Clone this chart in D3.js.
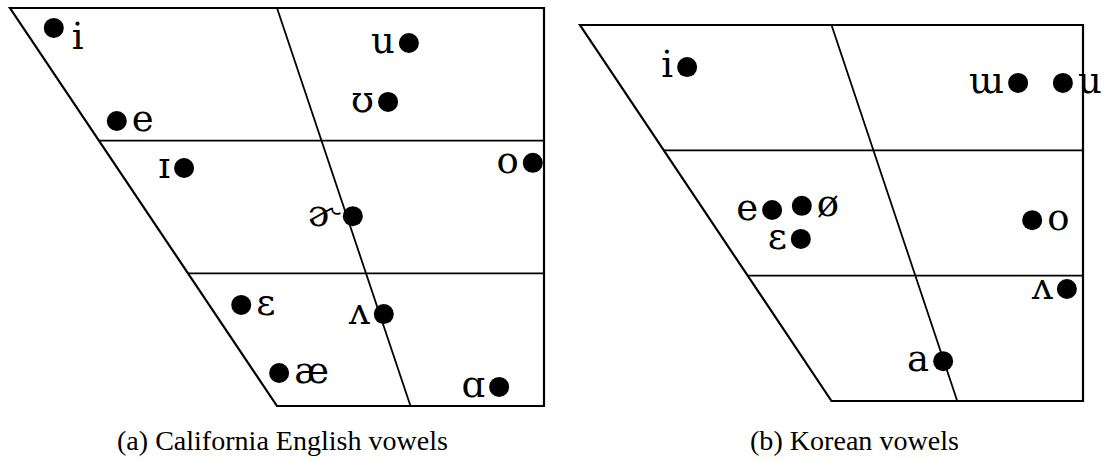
<!DOCTYPE html>
<html>
<head>
<meta charset="utf-8">
<script src="https://cdn.jsdelivr.net/npm/d3@7"></script>
<style>
  body { margin: 0; background: #fff; }
  .outline { fill: none; stroke: #000; stroke-width: 2.2; }
  .grid { fill: none; stroke: #000; stroke-width: 1.8; }
  .vowel-label { font-family: "DejaVu Serif", "Liberation Serif", serif; font-size: 37px; fill: #000; }
  .caption { font-family: "Liberation Serif", "Times New Roman", serif; font-size: 27px; fill: #000; }
</style>
</head>
<body>
<svg id="chart" width="1112" height="461"></svg>
<script>

// vowel space: x = backness 0..100 (front -> back), y = height 0..100 (close -> open)
// trapezoid corners and grid lines, in vowel-space units
var trapezoid = [[0, 0], [100, 0], [100, 100], [50, 100]];
var heightLines = [[[100 / 6, 100 / 3], [100, 100 / 3]], [[100 / 3, 200 / 3], [100, 200 / 3]]];
var centralLine = [[50, 0], [75, 100]];

// California English
var enSymbols = ["i", "e", "ɪ", "u", "ʊ", "o", "ɚ", "ʌ", "ɛ", "æ", "ɑ"];
var enBack    = [8.2, 20.0, 32.6, 74.7, 70.8, 97.9, 64.2, 70.0, 43.3, 50.4, 91.6];
var enHeight  = [5.0, 28.4, 40.2, 8.8, 23.6, 38.9, 52.3, 76.9, 74.6, 91.7, 95.2];
var enSide    = ["below", "right", "left", "left", "left", "left", "left", "left", "right", "right", "left"];

// Korean
var koSymbols = ["i", "ɯ", "u", "e", "ø", "ɛ", "o", "ʌ", "a"];
var koBack    = [21.3, 87.1, 96.0, 38.2, 44.1, 43.9, 89.9, 96.8, 72.2];
var koHeight  = [11.2, 15.4, 15.4, 49.2, 48.1, 56.9, 51.9, 70.2, 89.4];
var koSide    = ["left", "left", "right", "left", "right", "left", "right", "left", "left"];

var captions = ["(a) California English vowels", "(b) Korean vowels"];

var svg = d3.select("#chart");

var draw_chart = function(box, symbols, back, height, side) {

  var x = d3.scaleLinear().domain([0, 100]).range([box.left, box.right]);
  var y = d3.scaleLinear().domain([0, 100]).range([box.top, box.bottom]);

  var line = d3.line()
    .x(function(d) { return x(d[0]); })
    .y(function(d) { return y(d[1]); });

  var g = svg.append("g");

  g.append("path")
    .attr("class", "outline")
    .attr("d", line(trapezoid) + "Z");

  g.selectAll(".hline")
    .data(heightLines)
    .enter().append("path")
    .attr("class", "grid hline")
    .attr("d", line);

  g.append("path")
    .attr("class", "grid")
    .attr("d", line(centralLine));

  var vowels = symbols.map(function(s, i) {
    return {sym: s, bx: back[i], hy: height[i], side: side[i]};
  });

  var r = 10;

  g.selectAll("circle")
    .data(vowels)
    .enter().append("circle")
    .attr("cx", function(d) { return x(d.bx); })
    .attr("cy", function(d) { return y(d.hy); })
    .attr("r", r)
    .attr("fill", "#000");

  g.selectAll(".vowel-label")
    .data(vowels)
    .enter().append("text")
    .attr("class", "vowel-label")
    .attr("x", function(d) {
      if ( d.side == "left" ) return x(d.bx) - r - 4;
      if ( d.side == "below" ) return x(d.bx) + r + 8;
      return x(d.bx) + r + 5;
    })
    .attr("y", function(d) {
      if ( d.side == "below" ) return y(d.hy) + 21;
      return y(d.hy) + 10;
    })
    .attr("text-anchor", function(d) { return d.side == "left" ? "end" : "start"; })
    .text(function(d) { return d.sym; });

};

draw_chart({left: 10, right: 544, top: 8, bottom: 406}, enSymbols, enBack, enHeight, enSide);
draw_chart({left: 580, right: 1083, top: 25, bottom: 401}, koSymbols, koBack, koHeight, koSide);

svg.append("text")
  .attr("class", "caption")
  .attr("x", 117)
  .attr("y", 450)
  .attr("textLength", 331)
  .attr("lengthAdjust", "spacingAndGlyphs")
  .text(captions[0]);

svg.append("text")
  .attr("class", "caption")
  .attr("x", 750)
  .attr("y", 450)
  .attr("textLength", 209)
  .attr("lengthAdjust", "spacingAndGlyphs")
  .text(captions[1]);

</script>
</body>
</html>
